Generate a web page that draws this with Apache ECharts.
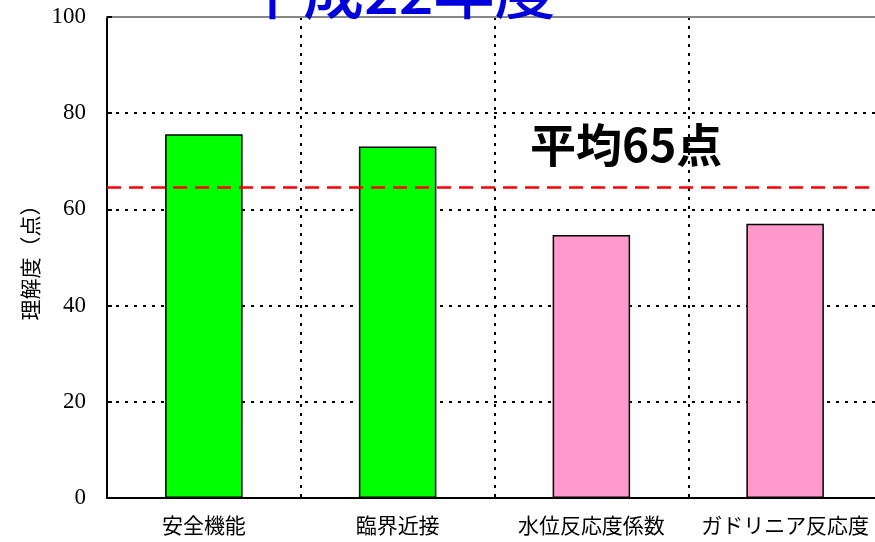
<!DOCTYPE html>
<html><head><meta charset="utf-8">
<script src="https://cdn.jsdelivr.net/npm/echarts@6/dist/echarts.min.js"></script>
<style>html,body{margin:0;padding:0;background:#fff;overflow:hidden}#c{width:885px;height:542px}</style>
</head><body><div id="c"></div>
<script>
const categories = ['安全機能', '臨界近接', '水位反応度係数', 'ガドリニア反応度'];
const values = [75.6, 73.1, 54.7, 57.0];
const barColors = ['#00ff00', '#00ff00', '#ff99cc', '#ff99cc'];
const averageValue = 64.6;
const averageLabel = '平均65点';
const titleText = '平成22年度';
const yTicks = [0, 20, 40, 60, 80, 100];

const chart = echarts.init(document.getElementById('c'));
chart.setOption({
  animation: false,
  backgroundColor: '#fff',
  grid: { left: 107, top: 17, width: 775, bottom: 44, containLabel: false },
  graphic: [
    { type: 'text', left: 242, top: -40, z: 10,
      style: { text: titleText, fill: '#0000dd', font: '500 61px "Noto Sans CJK JP"' } },
    { type: 'text', left: 530, top: 122, z: 10,
      style: { text: averageLabel, fill: '#000', font: 'bold 46px "Noto Sans CJK JP"' } }
  ],
  xAxis: [{
    type: 'category', data: categories,
    axisLine: { lineStyle: { color: '#000', width: 2 } },
    axisTick: { show: false },
    axisLabel: { interval: 0, color: '#000', fontSize: 21, fontFamily: 'Noto Sans CJK JP', margin: 17 },
    splitLine: { show: true, interval: 0, lineStyle: { color: '#000', type: [3, 6], width: 2 } }
  }, {
    type: 'category', data: categories, position: 'top',
    axisLine: { show: true, lineStyle: { color: '#888', width: 2 } },
    axisTick: { show: false }, axisLabel: { show: false }
  }],
  yAxis: {
    type: 'value', min: 0, max: 100, interval: 20,
    name: '理解度（点）', nameLocation: 'middle', nameGap: 66, nameRotate: 90,
    nameTextStyle: { color: '#000', fontSize: 21, fontFamily: 'Noto Sans CJK JP' },
    axisLine: { show: true, lineStyle: { color: '#000', width: 2 } },
    axisTick: { show: true, inside: true, length: 5, lineStyle: { color: '#000', width: 2 } },
    axisLabel: { color: '#000', fontSize: 23, fontFamily: 'Liberation Serif', margin: 21,
      formatter: v => yTicks.includes(v) ? String(v) : '' },
    splitLine: { show: true, lineStyle: { color: '#000', type: [3, 6], width: 2 } }
  },
  series: [{
    type: 'bar', data: values.map((v, i) => ({ value: v, itemStyle: { color: barColors[i] } })),
    barWidth: '40%',
    itemStyle: { borderColor: '#000', borderWidth: 1.5 },
    markLine: {
      silent: true, symbol: 'none', label: { show: false },
      lineStyle: { color: '#ff0000', type: [14, 8], width: 2.5 },
      data: [{ yAxis: averageValue }]
    }
  }]
});
</script></body></html>
